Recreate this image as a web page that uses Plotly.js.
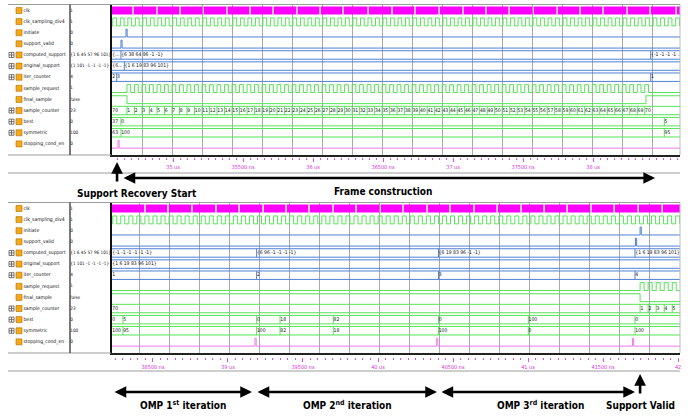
<!DOCTYPE html>
<html><head><meta charset="utf-8">
<script src="https://cdn.plot.ly/plotly-3.0.1.min.js"></script>
<style>html,body{margin:0;padding:0;background:#fff}#chart{width:694px;height:418px}</style>
</head><body><div id="chart"></div>
<script>
// ---------------- data ----------------
const signalNames = ['clk','clk_sampling_div4','initiate','support_valid','computed_support','original_support','iter_counter','sample_request','final_sample','sample_counter','best','symmetric','stopping_cond_en'];
const signalValues = ['1','1','0','0','{1 6 45 57 96 101}','{1 101 -1 -1 -1 -1}','4','1','false','23','0','100','0'];
const busRows = [4,5,6,9,10,11];

// ---- top window (time in ns) ----
const topRange = [34564, 38621];
const topLabelTicks = [35000,35500,36000,36500,37000,37500,38000];
const topLabelText = ['35 us','35500 ns','36 us','36500 ns','37 us','37500 ns','38 us'];
const topClkBreaks = [34714,34885,35050,35214,35385,35550,35714,35885,36050,36214,36393,36564,36728,36900,37071,37235,37400,37571,37743,37907,38071,38243,38407,38593];
const topDivClk = {start: 34570, period: 53.6};
const topSampleReq = {start: 34671, period: 53.6, pulses: 70};
const topInitiate = [34664];
const topSupportValid = [34628];
const topStopping = [34607];
const topFinalSample = [[34564,1],[34671,0],[38378,1]];
const topComputed = {times:[34628,38412], labels:['{...','{6 38 64 96 -1 -1}','{-1 -1 -1 -1 ...']};
const topOriginal = {times:[34652], labels:['{6...','{1 6 19 83 96 101}']};
const topIter = {times:[34598,38412], labels:['2','3','1']};
const topSampleCount = ['70',1,2,3,4,5,6,7,8,9,10,11,12,13,14,15,16,17,18,19,20,21,22,23,24,25,26,27,28,29,30,31,32,33,34,35,36,37,38,39,40,41,42,43,44,45,46,47,48,49,50,51,52,53,54,55,56,57,58,59,60,61,62,63,64,65,66,67,68,69,70];
const topBest = {times:[34628,38509], labels:['37','0','5']};
const topSym = {times:[34628,38509], labels:['63','100','95']};

// ---- bottom window (time in ns) ----
const botRange = [38227, 42013];
const botLabelTicks = [38500,39000,39500,40000,40500,41000,41500,42000];
const botLabelText = ['38500 ns','39 us','39500 ns','40 us','40500 ns','41 us','41500 ns','42'];
const botClkBreaks = [38447,38600,38760,38920,39074,39234,39387,39540,39700,39854,40014,40167,40327,40480,40640,40794,40954,41107,41260,41420,41574,41734,41894];
const botDivClk = {start: 38232, period: 53.6};
const botSampleReq = {start: 41747, period: 53.6, pulses: 6};
const botInitiate = [41747];
const botSupportValid = [41716];
const botStopping = [39180,40391,41696];
const botFinalSample = [[38227,1],[41747,0]];
const botComputed = {times:[39191,40403,41713], labels:['{-1 -1 -1 -1 -1 -1}','{6 96 -1 -1 -1 -1}','{6 19 83 96 -1 -1}','{1 6 19 83 96 101}']};
const botOriginal = {times:[], labels:['{1 6 19 83 96 101}']};
const botIter = {times:[39191,40403,41713], labels:['1','2','3','4']};
const botSampleCount = ['70',1,2,3,4,5];
const botBest = {times:[38300,39191,39347,39702,40403,41002,41713], labels:['0','5','0','18','82','0','100','0']};
const botSym = {times:[38300,39191,39347,39702,40403,41002,41713], labels:['100','95','100','82','18','100','0','100']};

// annotations (times in ns)
const topEvents = {recoveryStart: 34600, frameStart: 34636, frameEnd: 38443};
const botEvents = {omp1: [38234, 39160], omp2: [39187, 40393], omp3: [40413, 41713], supportValid: 41747};

// ---------------- styling ----------------
const W = 694, H = 418;
const px = v => v / W, py = v => 1 - v / H;
const MAG = '#ff00ff', GRN = '#55e455', BLU = '#4f80d6', PNK = '#f07af0';
const NARROW = 'DejaVu Sans Condensed, Liberation Sans Narrow, sans-serif';
const HI = -0.33, LO = 0.38, BT = -0.38, BB = 0.38;
const PULSE_W = 8;

function digital(row, tr, range) {
  const x = [], y = [];
  tr.forEach(([t, l]) => { x.push(t); y.push(row + (l ? HI : LO)); });
  x.push(range[1]); y.push(y[y.length - 1]);
  return {x, y};
}
function pulses(times, range) {
  const tr = [[range[0], 0]];
  times.forEach(t => { tr.push([t, 1]); tr.push([t + PULSE_W, 0]); });
  return tr;
}
function clock(spec, range) {
  const tr = [[range[0], 0]];
  let n = 0;
  for (let t = spec.start; t < range[1] && (spec.pulses === undefined || n < spec.pulses); t += spec.period, n++) {
    tr.push([t, 1]); tr.push([t + spec.period / 2, 0]);
  }
  return tr;
}
function risingEdges(spec, range) {
  const out = [];
  for (let n = 0, t = spec.start; t < range[1] && n < spec.pulses; n++, t += spec.period) out.push(t);
  return out;
}

function panel(P, xa, ya) {
  const traces = [];
  const common = {xaxis: xa, yaxis: ya, hoverinfo: 'skip', showlegend: false, type: 'scatter'};
  const cx = [], cy = [];
  const edges = [P.range[0], ...P.clkBreaks, P.range[1]];
  for (let i = 0; i < edges.length - 1; i++) {
    const a = i === 0 ? edges[i] : edges[i] + 5, b = i === edges.length - 2 ? edges[i + 1] : edges[i + 1] - 5;
    cx.push(a, b, null); cy.push(0, 0, null);
  }
  traces.push({...common, x: cx, y: cy, mode: 'lines', line: {color: MAG, width: 8}});
  const dig = [
    [1, clock(P.divClk, P.range), GRN],
    [2, pulses(P.initiate, P.range), BLU],
    [3, pulses(P.supportValid, P.range), BLU],
    [7, clock(P.sampleReq, P.range), GRN],
    [8, P.finalSample, GRN],
    [12, pulses(P.stopping, P.range), PNK]
  ];
  dig.forEach(([row, tr, col]) => {
    const d = digital(row, tr, P.range);
    traces.push({...common, x: d.x, y: d.y, mode: 'lines', line: {color: col, width: 1, shape: 'hv'}});
  });
  const sampleTimes = risingEdges(P.sampleReq, P.range);
  const counter = {times: sampleTimes.slice(0, P.sampleCount.length - 1), labels: P.sampleCount};
  const buses = [[4, P.computed, BLU], [5, P.original, BLU], [6, P.iter, BLU], [9, counter, GRN], [10, P.best, GRN], [11, P.sym, GRN]];
  const lines = {}; lines[BLU] = {x: [], y: []}; lines[GRN] = {x: [], y: []};
  const tx = {x: [], y: [], text: []};
  const pad = (P.range[1] - P.range[0]) / 568 * 0.3;
  buses.forEach(([row, bus, col]) => {
    const L = lines[col];
    L.x.push(P.range[0], P.range[1], null, P.range[0], P.range[1], null);
    L.y.push(row + BT, row + BT, null, row + BB, row + BB, null);
    bus.times.forEach(t => { L.x.push(t, t, null); L.y.push(row + BT, row + BB, null); });
    const starts = [P.range[0], ...bus.times];
    bus.labels.forEach((lab, i) => { if (starts[i] !== undefined) { tx.x.push(starts[i] + pad); tx.y.push(row); tx.text.push(String(lab)); } });
  });
  [BLU, GRN].forEach(c => traces.push({...common, x: lines[c].x, y: lines[c].y, mode: 'lines', line: {color: c, width: 1}}));
  traces.push({...common, x: tx.x, y: tx.y, text: tx.text, mode: 'text', textposition: 'middle right', marker: {size: 1}, textfont: {family: NARROW, size: 5, color: '#111'}});
  return traces;
}

const TOP = {range: topRange, clkBreaks: topClkBreaks, divClk: topDivClk, sampleReq: topSampleReq, initiate: topInitiate, supportValid: topSupportValid, stopping: topStopping, finalSample: topFinalSample, computed: topComputed, original: topOriginal, iter: topIter, sampleCount: topSampleCount, best: topBest, sym: topSym};
const BOT = {range: botRange, clkBreaks: botClkBreaks, divClk: botDivClk, sampleReq: botSampleReq, initiate: botInitiate, supportValid: botSupportValid, stopping: botStopping, finalSample: botFinalSample, computed: botComputed, original: botOriginal, iter: botIter, sampleCount: botSampleCount, best: botBest, sym: botSym};

let data = [...panel(TOP, 'x', 'y'), ...panel(BOT, 'x2', 'y2')];

const rows = signalNames.map((_, i) => i);
['y', 'y2'].forEach(ya => {
  const c = {xaxis: 'x5', yaxis: ya, hoverinfo: 'skip', showlegend: false, type: 'scatter'};
  data.push({...c, x: rows.map(() => 23.5), y: rows, text: signalNames, mode: 'text', textposition: 'middle right', marker: {size: 1}, textfont: {family: NARROW, size: 5, color: '#111'}});
  data.push({...c, x: rows.map(() => 70.3), y: rows, text: signalValues, mode: 'text', textposition: 'middle right', marker: {size: 1}, textfont: {family: NARROW, size: 4.6, color: '#111'}});
  data.push({...c, x: rows.map(() => 19), y: rows, mode: 'markers', marker: {symbol: 'square', size: 6, color: '#f2a91c', line: {color: '#b06d00', width: 0.6}}});
  data.push({...c, x: busRows.map(() => 11.5), y: busRows, mode: 'markers', marker: {symbol: 'square-cross-open', size: 5, color: '#555', line: {width: 0.8}}});
});
data.push({type: 'scatter', x: topRange, y: [0.5, 0.5], xaxis: 'x3', yaxis: 'y3', mode: 'lines', line: {width: 0}, hoverinfo: 'skip', showlegend: false});
data.push({type: 'scatter', x: botRange, y: [0.5, 0.5], xaxis: 'x4', yaxis: 'y4', mode: 'lines', line: {width: 0}, hoverinfo: 'skip', showlegend: false});

const wave = (range, dom, anchor, tick0, dtick) => ({domain: dom, range, anchor, showgrid: true, gridcolor: '#a9a9a9', gridwidth: 1, tickmode: 'linear', tick0, dtick, showticklabels: false, ticks: '', zeroline: false, showline: true, linecolor: '#222', linewidth: 2, fixedrange: true});
const rowAxis = (dom, anchor) => ({domain: dom, range: [13.0, -0.54], anchor, showgrid: false, zeroline: false, showticklabels: false, ticks: '', showline: true, linecolor: '#111', linewidth: 2, fixedrange: true});
const strip = (range, anchor, vals, txt) => ({domain: [px(112), px(680)], range, anchor, tickmode: 'array', tickvals: vals, ticktext: txt, ticks: 'outside', ticklen: 4, tickcolor: '#e050e0', tickwidth: 1, tickfont: {family: NARROW, size: 5.5, color: '#d830d8'}, showline: false, showgrid: false, zeroline: false, fixedrange: true, minor: {tickmode: 'linear', tick0: 0, dtick: 50, ticks: 'outside', ticklen: 2, tickcolor: '#e050e0', showgrid: false}});

const line = (x0, y0, x1, y1, color, width) => ({type: 'line', xref: 'paper', yref: 'paper', x0: px(x0), y0: py(y0), x1: px(x1), y1: py(y1), line: {color, width}, layer: 'above'});
const shapes = [];
[0, 198].forEach(o => {
  shapes.push(line(8, 4.5 + o, 680, 4.5 + o, '#9c9c9c', 1));
  shapes.push(line(8, 155 + o, 111, 155 + o, '#9c9c9c', 1));
  shapes.push(line(8, 173 + o, 680, 173 + o, '#9c9c9c', 1));
  shapes.push(line(70, 4.5 + o, 70, 155 + o, '#333', 1.3));
  shapes.push(line(680, 4.5 + o, 680, 155 + o, '#bbb', 1));
});

const AF = {family: NARROW, size: 10, color: '#000', weight: 'bold'};
const txtAnn = (x, y, text) => ({xref: 'paper', yref: 'paper', x: px(x), y: py(y), text, showarrow: false, font: AF, xanchor: 'center', yanchor: 'middle'});
const upArrow = (xref, t, yTip) => ({xref, yref: 'paper', x: t, y: py(yTip), ax: 0, ay: 21, text: '', showarrow: true, arrowhead: 2, arrowsize: 0.9, arrowwidth: 2.6, arrowcolor: '#000', standoff: 0, startstandoff: 0});
const dblArrow = (xref, t0, t1, y) => ({xref, yref: 'paper', x: t1, y: py(y), axref: xref, ax: t0, ayref: 'pixel', ay: 0, text: '', showarrow: true, arrowhead: 2, startarrowhead: 2, arrowside: 'end+start', arrowsize: 0.9, startarrowsize: 0.9, arrowwidth: 2.6, arrowcolor: '#000', standoff: 0, startstandoff: 0});

const annotations = [
  upArrow('x', topEvents.recoveryStart, 162),
  dblArrow('x', topEvents.frameStart, topEvents.frameEnd, 178),
  txtAnn(137, 193, 'Support Recovery Start'),
  txtAnn(383, 192, 'Frame construction'),
  dblArrow('x2', botEvents.omp1[0], botEvents.omp1[1], 392),
  dblArrow('x2', botEvents.omp2[0], botEvents.omp2[1], 392),
  dblArrow('x2', botEvents.omp3[0], botEvents.omp3[1], 392),
  upArrow('x2', botEvents.supportValid, 374),
  txtAnn(183, 405, 'OMP 1<sup>st</sup> iteration'),
  txtAnn(347, 405, 'OMP 2<sup>nd</sup> iteration'),
  txtAnn(540, 405, 'OMP 3<sup>rd</sup> iteration'),
  txtAnn(640, 405, 'Support Valid')
];

const layout = {
  width: W, height: H, margin: {l: 0, r: 0, t: 0, b: 0}, paper_bgcolor: '#fff', plot_bgcolor: '#fff', showlegend: false,
  xaxis: wave(topRange, [px(112), px(680)], 'y', 34780, 214.3),
  yaxis: rowAxis([py(155), py(4.5)], 'x'),
  xaxis2: wave(botRange, [px(112), px(680)], 'y2', 38413, 200),
  yaxis2: rowAxis([py(353), py(202.5)], 'x2'),
  xaxis3: strip(topRange, 'y3', topLabelTicks, topLabelText),
  yaxis3: {domain: [py(157), py(156)], range: [0, 1], visible: false, anchor: 'x3', fixedrange: true},
  xaxis4: strip(botRange, 'y4', botLabelTicks, botLabelText),
  yaxis4: {domain: [py(357), py(356)], range: [0, 1], visible: false, anchor: 'x4', fixedrange: true},
  xaxis5: {domain: [0, px(111)], range: [0, 111], visible: false, anchor: 'y', fixedrange: true},
  shapes, annotations
};
Plotly.newPlot('chart', data, layout, {displayModeBar: false, staticPlot: true});
</script></body></html>
